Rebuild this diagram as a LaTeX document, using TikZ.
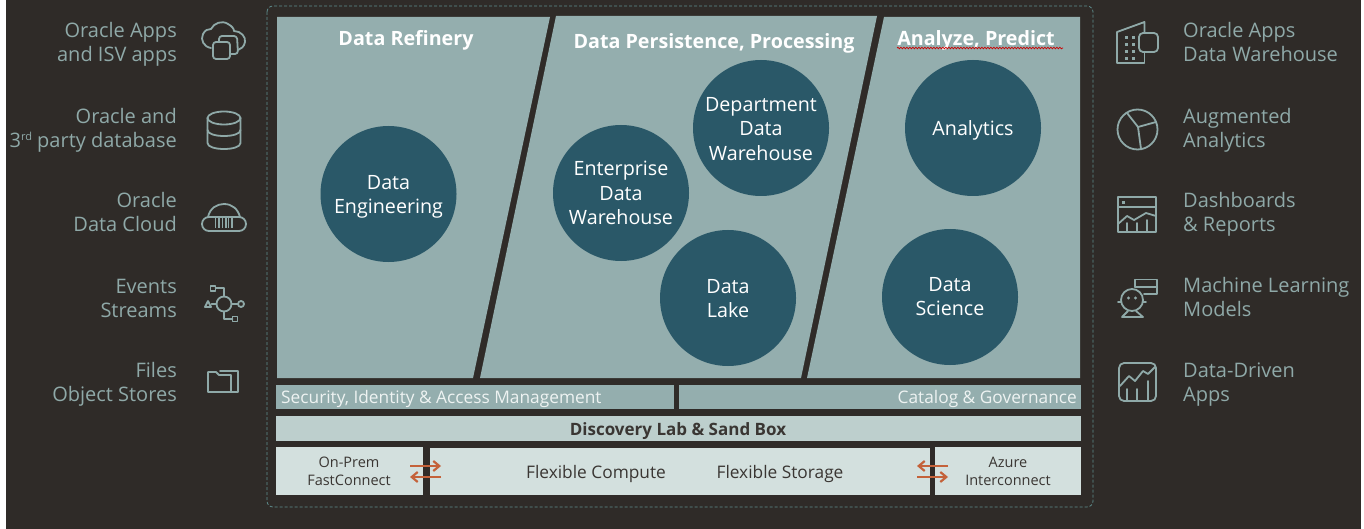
\documentclass[tikz,border=0pt]{standalone}
\usepackage{fontspec}
\setmainfont{Open Sans}
\usetikzlibrary{decorations.pathmorphing,arrows.meta}
\definecolor{bgdark}{HTML}{2F2B28}
\definecolor{panel}{HTML}{94AEAE}
\definecolor{ball}{HTML}{2A5868}
\definecolor{disc}{HTML}{BDCFCD}
\definecolor{flex}{HTML}{D3E0DE}
\definecolor{side}{HTML}{8FA9A8}
\definecolor{orng}{HTML}{C4623A}
\definecolor{dashcol}{HTML}{5F8F8F}
\definecolor{txtdark}{HTML}{3A3633}
\definecolor{soft}{HTML}{EEF3F2}
\newcommand{\supsm}[1]{\raisebox{6.5pt}{\fontsize{11}{11}\selectfont #1}}
\tikzset{
 sidetext/.style={text=side,font=\fontsize{20}{24}\selectfont,inner sep=0pt},
 balldisc/.style={circle,fill=ball,minimum size=136pt,inner sep=0pt},
 ballabel/.style={text=white,align=center,inner sep=0pt,font=\fontsize{19.7}{24.5}\selectfont},
 paneltitle/.style={text=white,font=\fontsize{19.7}{23}\selectfont\bfseries,inner sep=0pt},
 icon/.style={draw=side,line width=1.8pt,line join=round,line cap=round,fill=none},
 xchg/.style={draw=orng,line width=2.4pt,-{Straight Barb[length=6pt,width=10pt,line width=2.2pt]}},
}
\begin{document}
\begin{tikzpicture}[x=1pt,y=-1pt]
\useasboundingbox (0,0) rectangle (1364,529);
\fill[white] (0,0) rectangle (1364,529);
\fill[bgdark] (6,0) rectangle (1361,529);
\draw[dashcol,densely dashed,line width=.8pt,rounded corners=6pt] (267,6) rectangle (1093,507);
% panels
\fill[panel] (277,17) -- (550,17) -- (473,378) -- (277,378) -- cycle;
\fill[panel] (556,16) -- (877,16) -- (801,378) -- (480,378) -- cycle;
\fill[panel] (884,17) -- (1080,17) -- (1080,378) -- (807,378) -- cycle;
\node[paneltitle] (t1) at (406,40) {Data Refinery};
\node[paneltitle] (t2) at (714,43) {Data Persistence, Processing};
\node[paneltitle] (t3) at (976,40) {Analyze, Predict};
\draw[red!80!black,line width=.7pt,decorate,decoration={snake,amplitude=.8pt,segment length=3pt}] (897,48) -- (1063,48);
% circles
\node[balldisc] (c1) at (388.5,194) {};
\node[balldisc] (c2) at (621,193) {};
\node[balldisc] (c3) at (761,128) {};
\node[balldisc] (c4) at (728,298) {};
\node[balldisc] (c5) at (973,128) {};
\node[balldisc] (c6) at (950,297) {};
\node[ballabel] (c1t) at ([yshift=-3pt]c1.center) {Data\\Engineering};
\node[ballabel] (c2t) at (c2.center) {Enterprise\\Data\\Warehouse};
\node[ballabel] (c3t) at ([yshift=-1pt]c3.center) {Department\\Data\\Warehouse};
\node[ballabel] (c4t) at ([yshift=-.5pt]c4.center) {Data\\Lake};
\node[ballabel] (c5t) at ([yshift=-2pt]c5.center) {Analytics};
\node[ballabel] (c6t) at ([yshift=.5pt]c6.center) {Data\\Science};
% bars
\fill[panel] (276,385) rectangle (674,409);
\fill[panel] (679,385) rectangle (1081,409);
\node[text=soft,font=\fontsize{17.3}{20}\selectfont,inner sep=0pt,anchor=west] (sec) at (281,399) {Security, Identity \& Access Management};
\node[text=soft,font=\fontsize{17.3}{20}\selectfont,inner sep=0pt,anchor=east] (cat) at (1077,399) {Catalog \& Governance};
\fill[disc] (276,416) rectangle (1081,441);
\node[text=txtdark,font=\fontsize{17}{20}\selectfont\bfseries,inner sep=0pt] (disc) at (678,431) {Discovery Lab \& Sand Box};
\fill[flex] (276,447) rectangle (423,495);
\fill[flex] (430,448) rectangle (930,495);
\fill[flex] (935,447) rectangle (1081,495);
\node[text=txtdark,align=center,font=\fontsize{14.5}{17.5}\selectfont,inner sep=0pt] (op) at (349,471.5) {On-Prem\\FastConnect};
\node[text=txtdark,font=\fontsize{17.3}{20}\selectfont,inner sep=0pt] (fc) at (596,474) {Flexible Compute};
\node[text=txtdark,font=\fontsize{17.3}{20}\selectfont,inner sep=0pt] (fs) at (780,474) {Flexible Storage};
\node[text=txtdark,align=center,font=\fontsize{14.5}{17.5}\selectfont,inner sep=0pt] (az) at (1008,471.5) {Azure\\Interconnect};
% exchange arrows
\coordinate (la) at (410,466); \coordinate (lb) at (441,466);
\coordinate (lc) at (441,477); \coordinate (ld) at (410,477);
\coordinate (ra) at (948,466); \coordinate (rb) at (917,466);
\coordinate (rc) at (917,477); \coordinate (rd) at (948,477);
\draw[xchg] (la) -- (lb);
\draw[xchg] (lc) -- (ld);
\draw[xchg] (ra) -- (rb);
\draw[xchg] (rc) -- (rd);
% left labels
\node[sidetext,align=right,anchor=east] (l1) at (177,44) {Oracle Apps\\and ISV apps};
\node[sidetext,align=right,anchor=east] (l2) at (177,130) {Oracle and\\3\supsm{rd} party database};
\node[sidetext,align=right,anchor=east] (l3) at (177,212) {Oracle\\Data Cloud};
\node[sidetext,align=right,anchor=east] (l4) at (177,298) {Events\\Streams};
\node[sidetext,align=right,anchor=east] (l5) at (177,384) {Files\\Object Stores};
% right labels
\node[sidetext,align=left,anchor=west] (r1) at (1183,42) {Oracle Apps\\Data Warehouse};
\node[sidetext,align=left,anchor=west] (r2) at (1183,130) {Augmented\\Analytics};
\node[sidetext,align=left,anchor=west] (r3) at (1183,214) {Dashboards\\\& Reports};
\node[sidetext,align=left,anchor=west] (r4) at (1183,297) {Machine Learning\\Models};
\node[sidetext,align=left,anchor=west] (r5) at (1183,385) {Data-Driven\\Apps};
% left icon 1: cloud with copies
\draw[icon] (211,48) .. controls (204,47) and (200,40) .. (203,34) .. controls (205,30) and (208,29) .. (211,29) .. controls (214,23) and (222,20) .. (228,24) .. controls (232,26) and (234,29) .. (234,31) .. controls (241,31) and (246,37) .. (245,42) .. controls (244,47) and (241,49) .. (238,50);
\draw[icon,rounded corners=3pt] (213,42) rectangle (230,59);
\draw[icon,rounded corners=3pt] (219,42) -- (219,36) -- (237,36) -- (238,54) -- (230,54);
% left icon 2: database
\draw[icon] (224,118) ellipse (16.5pt and 6.5pt);
\draw[icon] (207.5,118) -- (207.5,143) .. controls (207.5,151) and (240.5,151) .. (240.5,143) -- (240.5,118);
\draw[icon] (207.5,130) .. controls (207.5,138) and (240.5,138) .. (240.5,130);
% left icon 3: cloud with bars
\draw[icon,rounded corners=7pt] (202,217) rectangle (246,231);
\draw[icon] (208,217) .. controls (210,208) and (217,204) .. (224,204) .. controls (232,204) and (238,209) .. (240,217);
\foreach \bx/\bw in {215/1,218/1.5,221.5/1,224.5/2,228/1,231/1.5}{\fill[side] (\bx,218) rectangle ++(\bw,10);}
% left icon 4: event streams
\draw[icon] (224,304) circle (7.5pt);
\draw[icon] (210.5,286) rectangle (215.5,291);
\draw[icon] (215.5,288) -- (224,288) -- (224,296.5);
\draw[icon] (205,307) -- (208,301) -- (211,307) -- cycle;
\draw[icon] (211.5,304) -- (216.5,304);
\draw[icon] (241,304) circle (3pt);
\draw[icon] (231.5,304) -- (238,304);
\draw[icon] (232.5,316.5) rectangle (237.5,321.5);
\draw[icon] (224,311.5) -- (224,319) -- (232.5,319);
% left icon 5: folder
\draw[icon] (208,372) -- (216,372) -- (219,375) -- (231,375) -- (231,392) -- (208,392) -- cycle;
\draw[icon] (220,371) -- (238,371) -- (238,392) -- (231,392);
% right icon 1: building
\draw[icon] (1139,63) -- (1117,63) -- (1117,32) -- (1144.5,22) -- (1144.5,33);
\draw[icon] (1144.5,52) -- (1144.5,63) -- (1139,63);
\draw[icon,rounded corners=4pt] (1139,33) rectangle (1158,52);
\foreach \wx in {1125,1132}{\foreach \wy in {36,43,50,57}{\fill[side] (\wx,\wy) rectangle ++(3,3);}}
% right icon 2: pie
\draw[icon] (1137.5,129.5) circle (20pt);
\draw[icon] (1127,113) -- (1138,127) -- (1156,122);
\draw[icon] (1138,127) -- (1141,149);
% right icon 3: dashboard
\draw[icon] (1118,197) rectangle (1156,232);
\draw[icon] (1118,207) -- (1156,207);
\fill[side] (1122,201) rectangle ++(3,3);
\draw[icon] (1118,224) -- (1127,216) -- (1134,220) -- (1146,213) -- (1156,216);
\draw[icon] (1127,232) -- (1127,223);
\draw[icon] (1137,232) -- (1137,223);
\draw[icon] (1147,232) -- (1147,220);
% right icon 4: robot
\draw[icon] (1132,300) circle (11pt);
\draw[icon] (1118,302) -- (1121,302);
\draw[icon] (1143,302) -- (1146,302);
\fill[side] (1128.5,298) circle (1.6pt);
\fill[side] (1135.5,298) circle (1.6pt);
\draw[icon] (1128,311) -- (1122,317) -- (1143,317) -- (1136,311);
\draw[icon] (1135,287) -- (1135,279.5) -- (1157,279.5) -- (1157,294) -- (1144,294);
\draw[icon] (1135,287) -- (1157,287);
% right icon 5: chart
\draw[icon,rounded corners=5pt] (1119,363) rectangle (1156,401);
\draw[icon] (1120,386) -- (1129,376) -- (1135,381) -- (1143,371) -- (1148,374) -- (1155,367);
\draw[icon] (1127,400) -- (1127,389);
\draw[icon] (1137,400) -- (1137,389);
\draw[icon] (1148,400) -- (1148,381);
\end{tikzpicture}
\end{document}
